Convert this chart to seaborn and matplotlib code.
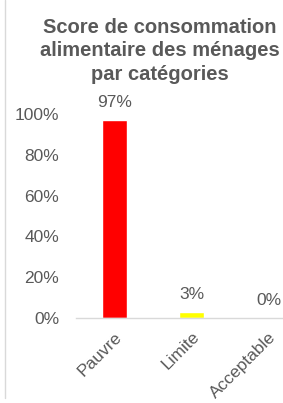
import matplotlib
matplotlib.use("Agg")
import matplotlib.pyplot as plt
import seaborn as sns

# Données du graphique
categories = ["Pauvre", "Limite", "Acceptable"]
valeurs = [97, 3, 0]
couleurs = ["#ff0000", "#ffff00", "#00b050"]
yticks = [0, 20, 40, 60, 80, 100]

sns.set_style("white")
plt.rcParams["font.family"] = ["Liberation Sans", "DejaVu Sans"]

gris = "#595959"
fig = plt.figure(figsize=(2.83, 4.03), dpi=100)

# axes dépasse à droite (graphique rogné)
left, right = 76 / 283, 307 / 283
bottom, top = 1 - 318 / 403, 1 - 114 / 403
ax = fig.add_axes([left, bottom, right - left, top - bottom])

sns.barplot(x=categories, y=valeurs, hue=categories, palette=couleurs,
            width=0.33, saturation=1, legend=False, ax=ax)

ax.set_ylim(0, 100)
ax.set_xlim(-0.5, 2.5)
ax.set_yticks(yticks)
ax.set_yticklabels([f"{t}%" for t in yticks], color=gris, fontsize=12.5)
ax.tick_params(axis="y", length=0, pad=12)
ax.tick_params(axis="x", length=0, pad=8)
ax.set_xticks(range(len(categories)))
ax.set_xticklabels(categories, rotation=45, ha="right", rotation_mode="anchor",
                   color=gris, fontsize=12.5)
ax.set_xlabel("")
ax.set_ylabel("")
for s in ["top", "right", "left"]:
    ax.spines[s].set_visible(False)
ax.spines["bottom"].set_color("#d9d9d9")
ax.spines["bottom"].set_linewidth(1)

for i, v in enumerate(valeurs):
    ax.annotate(f"{v}%", (i, v), xytext=(0, 7), textcoords="offset points",
                ha="center", va="bottom", color=gris, fontsize=12.5)

fig.text(160 / 283, 1 - 51 / 403,
         "Score de consommation\nalimentaire des ménages\npar catégories",
         ha="center", va="center", fontsize=14.5, fontweight="bold", color=gris,
         linespacing=1.3)

# bordure du cadre à gauche
fig.add_artist(plt.Line2D([5 / 283, 5 / 283], [1 - 398 / 403, 1], color="#d9d9d9",
                          lw=1, transform=fig.transFigure))

fig.savefig("out.png", dpi=100)
